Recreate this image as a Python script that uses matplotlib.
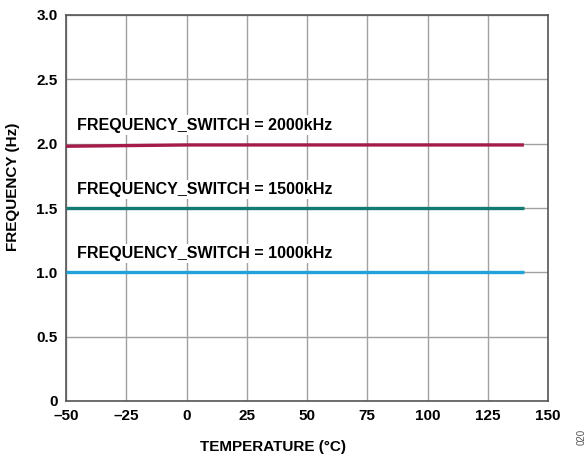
import matplotlib.pyplot as plt
import numpy as np

plt.rcParams["font.family"] = ["Liberation Sans", "DejaVu Sans"]
plt.rcParams["font.weight"] = "bold"

# temperature sweep (°C) and measured frequency (Hz)
temperature = [-50, -25, 0, 25, 50, 75, 100, 125, 140]
freq_2000 = [1.98, 1.985, 1.99, 1.99, 1.99, 1.99, 1.99, 1.99, 1.99]
freq_1500 = [1.50, 1.50, 1.50, 1.50, 1.50, 1.50, 1.50, 1.50, 1.50]
freq_1000 = [1.00, 1.00, 1.00, 1.00, 1.00, 1.00, 1.00, 1.00, 1.00]

series = [
    (freq_2000, "#A51C48", "FREQUENCY_SWITCH = 2000kHz", 2.145),
    (freq_1500, "#127A73", "FREQUENCY_SWITCH = 1500kHz", 1.645),
    (freq_1000, "#1FA3DA", "FREQUENCY_SWITCH = 1000kHz", 1.145),
]

xticks = [-50, -25, 0, 25, 50, 75, 100, 125, 150]
xticklabels = [str(t).replace("-", "\u2013") for t in xticks]
yticks = [0, 0.5, 1.0, 1.5, 2.0, 2.5, 3.0]
yticklabels = ["0", "0.5", "1.0", "1.5", "2.0", "2.5", "3.0"]

fig = plt.figure(figsize=(5.88, 4.59), dpi=100)
ax = fig.add_axes([66 / 588, 58 / 459, 482 / 588, 386 / 459])

for vals, color, label, ypos in series:
    ax.plot(temperature, vals, color=color, lw=2.4, zorder=3, solid_capstyle="butt")
    ax.text(-45.5, ypos, label, fontsize=11.5, fontweight="bold", va="center", ha="left",
            zorder=4, bbox=dict(facecolor="white", edgecolor="none", pad=1.5))

ax.set_xlim(-50, 150)
ax.set_ylim(0, 3.0)
ax.set_xticks(xticks)
ax.set_xticklabels(xticklabels)
ax.set_yticks(yticks)
ax.set_yticklabels(yticklabels)
ax.tick_params(length=0, labelsize=11, pad=6)
for lbl in ax.get_xticklabels() + ax.get_yticklabels():
    lbl.set_fontweight("bold")
ax.grid(True, color="#A0A0A0", lw=1.0, zorder=1)
for sp in ax.spines.values():
    sp.set_color("#555555")
    sp.set_linewidth(1.2)

ax.set_xlabel("TEMPERATURE (°C)", fontsize=11, fontweight="bold")
ax.set_ylabel("FREQUENCY (Hz)", fontsize=11, fontweight="bold")
# label centres are offset from the plot centre in the original
ax.xaxis.set_label_coords((273 - 66) / 482, -(447 - 401) / 386)
ax.yaxis.set_label_coords(-(66 - 13) / 482, (401 - 187) / 386)
ax.xaxis.label.set_va("center")
ax.yaxis.label.set_va("center")

fig.text(582 / 588, 1 - 437 / 459, "020", rotation=90, fontsize=7, fontweight="normal",
         color="#555555", ha="center", va="center")

fig.savefig("out.png", dpi=100)
